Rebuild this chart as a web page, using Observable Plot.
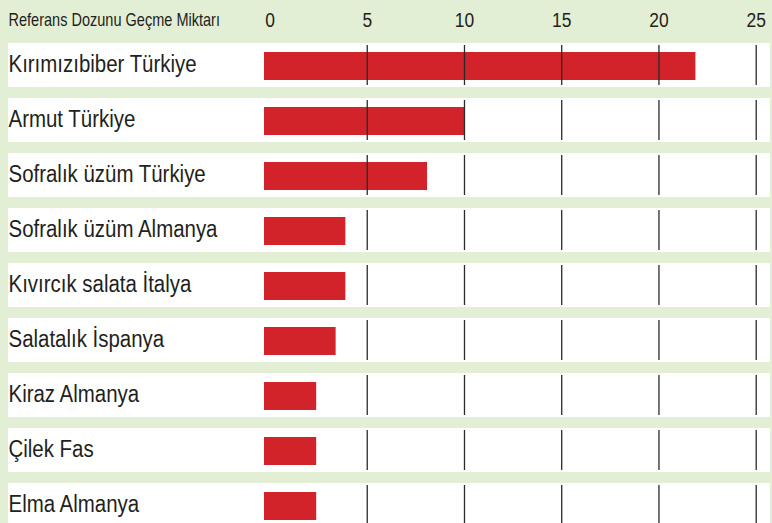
<!DOCTYPE html>
<html>
<head>
<meta charset="utf-8">
<script src="https://cdn.jsdelivr.net/npm/d3@7"></script>
<script src="https://cdn.jsdelivr.net/npm/@observablehq/plot@0.6"></script>
<style>
  html, body { margin: 0; padding: 0; background: #e2efd5; }
  #chart svg { display: block; }
</style>
</head>
<body>
<div id="chart"></div>
<script>
const categories = [
  "Kırımızıbiber Türkiye",
  "Armut Türkiye",
  "Sofralık üzüm Türkiye",
  "Sofralık üzüm Almanya",
  "Kıvırcık salata İtalya",
  "Salatalık İspanya",
  "Kiraz Almanya",
  "Çilek Fas",
  "Elma Almanya"
];
const values = [21.9, 10, 8.1, 3.9, 3.9, 3.4, 2.4, 2.4, 2.4];
const tickValues = [0, 5, 10, 15, 20, 25];
const gridValues = [5, 10, 15, 20, 25];
const headerLabel = "Referans Dozunu Geçme Miktarı";

const data = categories.map((name, i) => ({name, value: values[i]}));
const grid = categories.flatMap(name => gridValues.map(v => ({name, v})));

const FONT = "'Liberation Sans', Arial, sans-serif";

const chart = Plot.plot({
  width: 772,
  height: 523,
  marginLeft: 8,
  marginRight: 2,
  marginTop: 43,
  marginBottom: 0,
  style: {background: "transparent", fontFamily: FONT, color: "#231f20"},
  x: {domain: [0, 25], range: [269.5, 755.7], axis: null},
  y: {domain: categories, range: [43, 528], paddingInner: 0.2, paddingOuter: 0, axis: null},
  marks: [
    Plot.cell(categories, {y: d => d, fill: "white"}),
    Plot.barX(data, {x: "value", y: "name", fill: "#d2232a", insetTop: 9, insetBottom: 7, insetLeft: -5.5}),
    Plot.tickX(grid, {x: "v", y: "name", stroke: "#2a2a2a", strokeWidth: 1.3, insetTop: 2, insetBottom: 2}),
    Plot.text(categories, {y: d => d, text: d => d, frameAnchor: "left", textAnchor: "start", fontSize: 23.5, fill: "#231f20", dy: -1, className: "rowlabel"}),
    Plot.text(tickValues, {x: d => d, text: d => String(d), frameAnchor: "top", dy: -23, lineAnchor: "middle", fontSize: 21, fill: "#231f20", className: "condensed"}),
    Plot.text([headerLabel], {text: d => d, frameAnchor: "top-left", dy: -23, lineAnchor: "middle", textAnchor: "start", fontSize: 17.5, fill: "#231f20", className: "condensed"})
  ]
});
// emulate a narrow typeface by horizontally condensing the text glyphs
function condense(sel, k) {
  d3.select(chart).selectAll(sel).each(function() {
    const t = this.getAttribute("transform") || "";
    this.setAttribute("transform", t + ` scale(${k},1)`);
  });
}
condense("g.condensed text", 0.83);
condense("g.rowlabel text", 0.87);
document.getElementById("chart").appendChild(chart);
</script>
</body>
</html>
